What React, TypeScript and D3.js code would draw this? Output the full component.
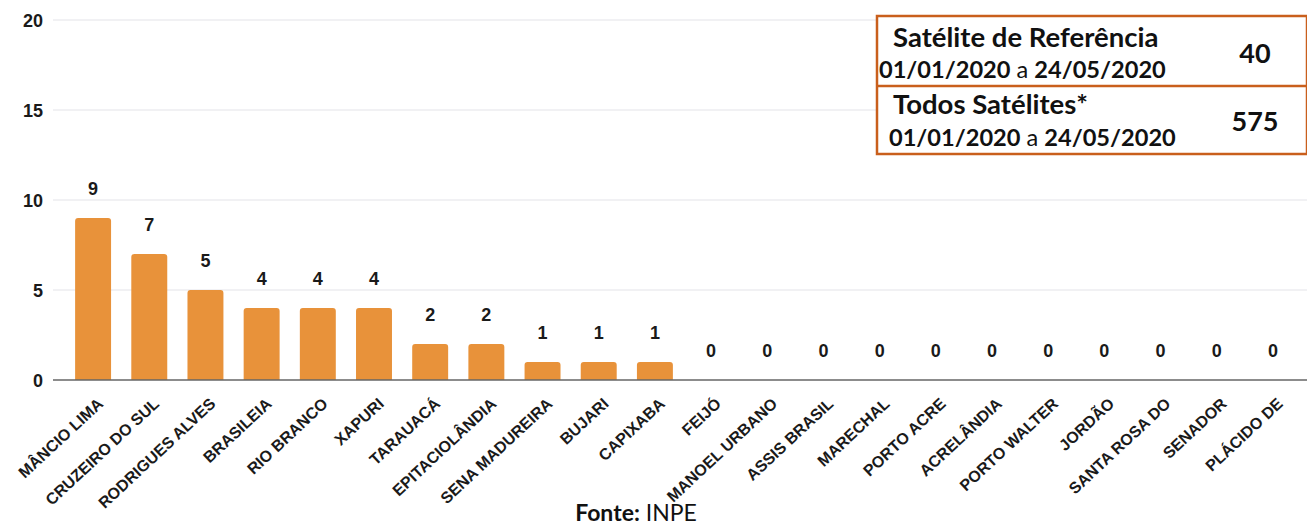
import React, { useRef, useEffect } from "react";
import * as d3 from "d3";

// categories (municípios) and focus counts
const municipios: string[] = [
  "MÂNCIO LIMA",
  "CRUZEIRO DO SUL",
  "RODRIGUES ALVES",
  "BRASILEIA",
  "RIO BRANCO",
  "XAPURI",
  "TARAUACÁ",
  "EPITACIOLÂNDIA",
  "SENA MADUREIRA",
  "BUJARI",
  "CAPIXABA",
  "FEIJÓ",
  "MANOEL URBANO",
  "ASSIS BRASIL",
  "MARECHAL",
  "PORTO ACRE",
  "ACRELÂNDIA",
  "PORTO WALTER",
  "JORDÃO",
  "SANTA ROSA DO",
  "SENADOR",
  "PLÁCIDO DE",
];
const focos: number[] = [9, 7, 5, 4, 4, 4, 2, 2, 1, 1, 1, 0, 0, 0, 0, 0, 0, 0, 0, 0, 0, 0];
const yTicks: number[] = [0, 5, 10, 15, 20];

// summary box rows
const boxTitles: string[] = ["Satélite de Referência", "Todos Satélites*"];
const boxTotals: string[] = ["40", "575"];
const periodStart = "01/01/2020";
const periodEnd = "24/05/2020";

export default function App() {
  const svgRef = useRef<SVGSVGElement | null>(null);

  useEffect(() => {
    const W = 1307;
    const H = 527;
    const svg = d3.select(svgRef.current);
    svg.selectAll("*").remove();
    svg.attr("width", W).attr("height", H);

    const axisFont = "'Liberation Sans', Arial, sans-serif";
    const boxFont = "Lato, 'Open Sans', sans-serif";

    const x = d3
      .scaleBand<string>()
      .domain(municipios)
      .range([65, 1301])
      .paddingInner(0.36)
      .paddingOuter(0.18);

    const y = d3.scaleLinear().domain([0, 20]).range([380, 20]);

    // gridlines
    svg
      .append("g")
      .selectAll("line")
      .data(yTicks.filter((t) => t > 0))
      .join("line")
      .attr("x1", 53)
      .attr("x2", W)
      .attr("y1", (d) => y(d))
      .attr("y2", (d) => y(d))
      .attr("stroke", "#e3e3e8")
      .attr("stroke-width", 1);

    // y tick labels
    svg
      .append("g")
      .selectAll("text")
      .data(yTicks)
      .join("text")
      .attr("x", 43)
      .attr("y", (d) => y(d) + 6.5)
      .attr("text-anchor", "end")
      .attr("font-family", axisFont)
      .attr("font-weight", "bold")
      .attr("font-size", 18)
      .attr("fill", "#1a1a1a")
      .text((d) => d);

    // bars with rounded tops
    const r = 3;
    svg
      .append("g")
      .selectAll("path")
      .data(municipios.map((m, i) => ({ m, v: focos[i] })).filter((d) => d.v > 0))
      .join("path")
      .attr("fill", "#e8923a")
      .attr("d", (d) => {
        const x0 = x(d.m)!;
        const w = x.bandwidth();
        const y0 = y(d.v);
        const yb = y(0);
        return `M${x0},${yb}V${y0 + r}Q${x0},${y0} ${x0 + r},${y0}H${x0 + w - r}Q${x0 + w},${y0} ${x0 + w},${y0 + r}V${yb}Z`;
      });

    // baseline
    svg
      .append("line")
      .attr("x1", 53)
      .attr("x2", W)
      .attr("y1", y(0))
      .attr("y2", y(0))
      .attr("stroke", "#666")
      .attr("stroke-width", 1.5);

    // value labels
    svg
      .append("g")
      .selectAll("text")
      .data(municipios.map((m, i) => ({ m, v: focos[i] })))
      .join("text")
      .attr("x", (d) => x(d.m)! + x.bandwidth() / 2)
      .attr("y", (d) => y(d.v) - 23)
      .attr("text-anchor", "middle")
      .attr("font-family", axisFont)
      .attr("font-weight", "bold")
      .attr("font-size", 18)
      .attr("fill", "#1a1a1a")
      .text((d) => d.v);

    // x labels rotated
    svg
      .append("g")
      .selectAll("text")
      .data(municipios)
      .join("text")
      .attr("transform", (d) => {
        const cx = x(d)! + x.bandwidth() / 2 + 11;
        return `translate(${cx},${y(0) + 25}) rotate(-43)`;
      })
      .attr("text-anchor", "end")
      .attr("font-family", axisFont)
      .attr("font-weight", "bold")
      .attr("font-size", 16)
      .attr("fill", "#1a1a1a")
      .text((d) => d);

    // summary box
    const box = svg.append("g");
    box
      .append("rect")
      .attr("x", 877)
      .attr("y", 16)
      .attr("width", 430)
      .attr("height", 138)
      .attr("fill", "white")
      .attr("stroke", "#c95f1c")
      .attr("stroke-width", 2.5);
    box
      .append("line")
      .attr("x1", 877)
      .attr("x2", W)
      .attr("y1", 86)
      .attr("y2", 86)
      .attr("stroke", "#c95f1c")
      .attr("stroke-width", 2.5);

    const rows = [
      { title: boxTitles[0], total: boxTotals[0], tx: 893, ty: 47, dx: 879, dy: 78, vy: 63 },
      { title: boxTitles[1], total: boxTotals[1], tx: 893, ty: 114, dx: 889, dy: 146, vy: 131 },
    ];
    rows.forEach((rw) => {
      box
        .append("text")
        .attr("x", rw.tx)
        .attr("y", rw.ty)
        .attr("font-family", boxFont)
        .attr("font-weight", "bold")
        .attr("font-size", 27.5)
        .attr("fill", "#111")
        .text(rw.title);
      const t = box
        .append("text")
        .attr("x", rw.dx)
        .attr("y", rw.dy)
        .attr("font-family", boxFont)
        .attr("font-size", 23.6)
        .attr("fill", "#111");
      t.append("tspan").attr("font-weight", "bold").text(periodStart);
      t.append("tspan").text(" a ");
      t.append("tspan").attr("font-weight", "bold").text(periodEnd);
      box
        .append("text")
        .attr("x", 1255)
        .attr("y", rw.vy)
        .attr("text-anchor", "middle")
        .attr("font-family", boxFont)
        .attr("font-weight", "bold")
        .attr("font-size", 27)
        .attr("fill", "#111")
        .text(rw.total);
    });

    // source
    const src = svg
      .append("text")
      .attr("x", 636)
      .attr("y", 521)
      .attr("text-anchor", "middle")
      .attr("font-family", boxFont)
      .attr("font-size", 23)
      .attr("fill", "#111");
    src.append("tspan").attr("font-weight", "bold").text("Fonte:");
    src.append("tspan").text(" INPE");
  }, []);

  return (
    <div style={{ position: "absolute", left: 0, top: 0, background: "white" }}>
      <svg ref={svgRef} style={{ display: "block" }} />
    </div>
  );
}
